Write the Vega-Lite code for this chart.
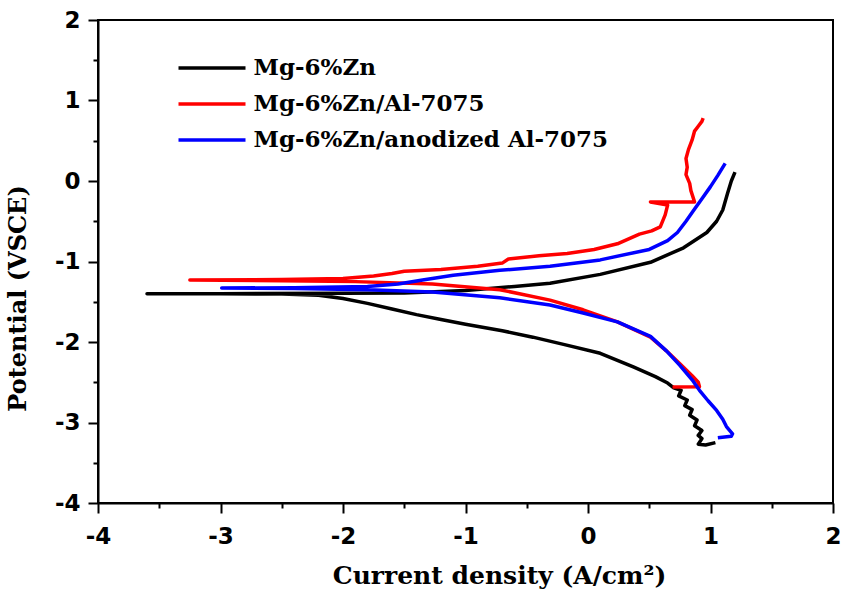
{
  "$schema": "https://vega.github.io/schema/vega-lite/v6.json",
  "width": 735,
  "height": 483,
  "autosize": {"type": "none"},
  "padding": {"left": 98, "top": 20, "right": 12, "bottom": 91},
  "background": "white",
  "config": {
    "view": {"stroke": "black", "strokeWidth": 2},
    "axis": {
      "domainColor": "black", "domainWidth": 2, "tickColor": "black", "tickWidth": 2,
      "grid": false, "labelFont": "DejaVu Sans", "labelFontWeight": "bold", "labelFontSize": 23,
      "labelColor": "black", "titleFont": "DejaVu Serif", "titleFontWeight": "bold",
      "titleFontSize": 25, "titleColor": "black"
    }
  },
  "data": {"values": [
    {"s":"Mg-6%Zn","i":1,"x":1.04,"y":-3.25},{"s":"Mg-6%Zn","i":2,"x":0.96,"y":-3.28},{"s":"Mg-6%Zn","i":3,"x":0.90,"y":-3.27},
    {"s":"Mg-6%Zn","i":4,"x":0.93,"y":-3.20},{"s":"Mg-6%Zn","i":5,"x":0.90,"y":-3.16},{"s":"Mg-6%Zn","i":6,"x":0.93,"y":-3.10},
    {"s":"Mg-6%Zn","i":7,"x":0.87,"y":-3.04},{"s":"Mg-6%Zn","i":8,"x":0.89,"y":-2.97},{"s":"Mg-6%Zn","i":9,"x":0.83,"y":-2.91},
    {"s":"Mg-6%Zn","i":10,"x":0.85,"y":-2.84},{"s":"Mg-6%Zn","i":11,"x":0.79,"y":-2.79},{"s":"Mg-6%Zn","i":12,"x":0.81,"y":-2.72},
    {"s":"Mg-6%Zn","i":13,"x":0.74,"y":-2.67},{"s":"Mg-6%Zn","i":14,"x":0.76,"y":-2.60},{"s":"Mg-6%Zn","i":15,"x":0.70,"y":-2.57},
    {"s":"Mg-6%Zn","i":16,"x":0.65,"y":-2.51},{"s":"Mg-6%Zn","i":17,"x":0.55,"y":-2.43},{"s":"Mg-6%Zn","i":18,"x":0.37,"y":-2.31},
    {"s":"Mg-6%Zn","i":19,"x":0.10,"y":-2.14},{"s":"Mg-6%Zn","i":20,"x":-0.20,"y":-2.03},{"s":"Mg-6%Zn","i":21,"x":-0.45,"y":-1.94},
    {"s":"Mg-6%Zn","i":22,"x":-0.70,"y":-1.86},{"s":"Mg-6%Zn","i":23,"x":-1.00,"y":-1.78},{"s":"Mg-6%Zn","i":24,"x":-1.20,"y":-1.72},
    {"s":"Mg-6%Zn","i":25,"x":-1.40,"y":-1.66},{"s":"Mg-6%Zn","i":26,"x":-1.60,"y":-1.59},{"s":"Mg-6%Zn","i":27,"x":-1.80,"y":-1.52},
    {"s":"Mg-6%Zn","i":28,"x":-2.00,"y":-1.46},{"s":"Mg-6%Zn","i":29,"x":-2.20,"y":-1.42},{"s":"Mg-6%Zn","i":30,"x":-2.50,"y":-1.405},
    {"s":"Mg-6%Zn","i":31,"x":-3.00,"y":-1.40},{"s":"Mg-6%Zn","i":32,"x":-3.60,"y":-1.40},{"s":"Mg-6%Zn","i":33,"x":-3.00,"y":-1.40},
    {"s":"Mg-6%Zn","i":34,"x":-2.00,"y":-1.395},{"s":"Mg-6%Zn","i":35,"x":-1.50,"y":-1.39},{"s":"Mg-6%Zn","i":36,"x":-1.00,"y":-1.36},
    {"s":"Mg-6%Zn","i":37,"x":-0.60,"y":-1.31},{"s":"Mg-6%Zn","i":38,"x":-0.31,"y":-1.27},{"s":"Mg-6%Zn","i":39,"x":0.10,"y":-1.16},
    {"s":"Mg-6%Zn","i":40,"x":0.51,"y":-1.01},{"s":"Mg-6%Zn","i":41,"x":0.78,"y":-0.83},{"s":"Mg-6%Zn","i":42,"x":0.97,"y":-0.64},
    {"s":"Mg-6%Zn","i":43,"x":1.05,"y":-0.50},{"s":"Mg-6%Zn","i":44,"x":1.10,"y":-0.36},{"s":"Mg-6%Zn","i":45,"x":1.14,"y":-0.15},
    {"s":"Mg-6%Zn","i":46,"x":1.17,"y":0.00},{"s":"Mg-6%Zn","i":47,"x":1.20,"y":0.11},

    {"s":"Mg-6%Zn/Al-7075","i":1,"x":0.69,"y":-2.56},{"s":"Mg-6%Zn/Al-7075","i":2,"x":0.91,"y":-2.555},{"s":"Mg-6%Zn/Al-7075","i":3,"x":0.90,"y":-2.50},
    {"s":"Mg-6%Zn/Al-7075","i":4,"x":0.85,"y":-2.42},{"s":"Mg-6%Zn/Al-7075","i":5,"x":0.75,"y":-2.27},{"s":"Mg-6%Zn/Al-7075","i":6,"x":0.64,"y":-2.11},
    {"s":"Mg-6%Zn/Al-7075","i":7,"x":0.51,"y":-1.94},{"s":"Mg-6%Zn/Al-7075","i":8,"x":0.24,"y":-1.75},{"s":"Mg-6%Zn/Al-7075","i":9,"x":-0.04,"y":-1.60},
    {"s":"Mg-6%Zn/Al-7075","i":10,"x":-0.31,"y":-1.48},{"s":"Mg-6%Zn/Al-7075","i":11,"x":-0.72,"y":-1.35},{"s":"Mg-6%Zn/Al-7075","i":12,"x":-1.27,"y":-1.28},
    {"s":"Mg-6%Zn/Al-7075","i":13,"x":-1.90,"y":-1.25},{"s":"Mg-6%Zn/Al-7075","i":14,"x":-2.50,"y":-1.24},{"s":"Mg-6%Zn/Al-7075","i":15,"x":-3.25,"y":-1.23},
    {"s":"Mg-6%Zn/Al-7075","i":16,"x":-2.50,"y":-1.225},{"s":"Mg-6%Zn/Al-7075","i":17,"x":-2.00,"y":-1.21},{"s":"Mg-6%Zn/Al-7075","i":18,"x":-1.75,"y":-1.18},
    {"s":"Mg-6%Zn/Al-7075","i":19,"x":-1.60,"y":-1.15},{"s":"Mg-6%Zn/Al-7075","i":20,"x":-1.50,"y":-1.12},{"s":"Mg-6%Zn/Al-7075","i":21,"x":-1.20,"y":-1.10},
    {"s":"Mg-6%Zn/Al-7075","i":22,"x":-0.90,"y":-1.06},{"s":"Mg-6%Zn/Al-7075","i":23,"x":-0.70,"y":-1.02},{"s":"Mg-6%Zn/Al-7075","i":24,"x":-0.65,"y":-0.97},
    {"s":"Mg-6%Zn/Al-7075","i":25,"x":-0.40,"y":-0.93},{"s":"Mg-6%Zn/Al-7075","i":26,"x":-0.17,"y":-0.90},{"s":"Mg-6%Zn/Al-7075","i":27,"x":0.05,"y":-0.85},
    {"s":"Mg-6%Zn/Al-7075","i":28,"x":0.24,"y":-0.78},{"s":"Mg-6%Zn/Al-7075","i":29,"x":0.42,"y":-0.66},{"s":"Mg-6%Zn/Al-7075","i":30,"x":0.52,"y":-0.62},
    {"s":"Mg-6%Zn/Al-7075","i":31,"x":0.59,"y":-0.57},{"s":"Mg-6%Zn/Al-7075","i":32,"x":0.63,"y":-0.42},{"s":"Mg-6%Zn/Al-7075","i":33,"x":0.65,"y":-0.30},
    {"s":"Mg-6%Zn/Al-7075","i":34,"x":0.51,"y":-0.26},{"s":"Mg-6%Zn/Al-7075","i":35,"x":0.87,"y":-0.26},{"s":"Mg-6%Zn/Al-7075","i":36,"x":0.84,"y":-0.12},
    {"s":"Mg-6%Zn/Al-7075","i":37,"x":0.83,"y":-0.03},{"s":"Mg-6%Zn/Al-7075","i":38,"x":0.80,"y":0.08},{"s":"Mg-6%Zn/Al-7075","i":39,"x":0.81,"y":0.17},
    {"s":"Mg-6%Zn/Al-7075","i":40,"x":0.80,"y":0.28},{"s":"Mg-6%Zn/Al-7075","i":41,"x":0.82,"y":0.39},{"s":"Mg-6%Zn/Al-7075","i":42,"x":0.85,"y":0.51},
    {"s":"Mg-6%Zn/Al-7075","i":43,"x":0.87,"y":0.62},{"s":"Mg-6%Zn/Al-7075","i":44,"x":0.90,"y":0.68},{"s":"Mg-6%Zn/Al-7075","i":45,"x":0.93,"y":0.74},
    {"s":"Mg-6%Zn/Al-7075","i":46,"x":0.94,"y":0.78},

    {"s":"Mg-6%Zn/anodized Al-7075","i":1,"x":1.06,"y":-3.19},{"s":"Mg-6%Zn/anodized Al-7075","i":2,"x":1.17,"y":-3.17},{"s":"Mg-6%Zn/anodized Al-7075","i":3,"x":1.18,"y":-3.14},
    {"s":"Mg-6%Zn/anodized Al-7075","i":4,"x":1.13,"y":-3.05},{"s":"Mg-6%Zn/anodized Al-7075","i":5,"x":1.10,"y":-2.96},{"s":"Mg-6%Zn/anodized Al-7075","i":6,"x":1.05,"y":-2.85},
    {"s":"Mg-6%Zn/anodized Al-7075","i":7,"x":0.98,"y":-2.73},{"s":"Mg-6%Zn/anodized Al-7075","i":8,"x":0.91,"y":-2.60},{"s":"Mg-6%Zn/anodized Al-7075","i":9,"x":0.85,"y":-2.47},
    {"s":"Mg-6%Zn/anodized Al-7075","i":10,"x":0.75,"y":-2.29},{"s":"Mg-6%Zn/anodized Al-7075","i":11,"x":0.64,"y":-2.11},{"s":"Mg-6%Zn/anodized Al-7075","i":12,"x":0.51,"y":-1.93},
    {"s":"Mg-6%Zn/anodized Al-7075","i":13,"x":0.24,"y":-1.75},{"s":"Mg-6%Zn/anodized Al-7075","i":14,"x":-0.04,"y":-1.64},{"s":"Mg-6%Zn/anodized Al-7075","i":15,"x":-0.31,"y":-1.54},
    {"s":"Mg-6%Zn/anodized Al-7075","i":16,"x":-0.72,"y":-1.45},{"s":"Mg-6%Zn/anodized Al-7075","i":17,"x":-1.27,"y":-1.38},{"s":"Mg-6%Zn/anodized Al-7075","i":18,"x":-1.80,"y":-1.35},
    {"s":"Mg-6%Zn/anodized Al-7075","i":19,"x":-2.40,"y":-1.335},{"s":"Mg-6%Zn/anodized Al-7075","i":20,"x":-2.99,"y":-1.33},{"s":"Mg-6%Zn/anodized Al-7075","i":21,"x":-2.40,"y":-1.325},
    {"s":"Mg-6%Zn/anodized Al-7075","i":22,"x":-1.80,"y":-1.31},{"s":"Mg-6%Zn/anodized Al-7075","i":23,"x":-1.55,"y":-1.28},{"s":"Mg-6%Zn/anodized Al-7075","i":24,"x":-1.35,"y":-1.23},
    {"s":"Mg-6%Zn/anodized Al-7075","i":25,"x":-1.10,"y":-1.17},{"s":"Mg-6%Zn/anodized Al-7075","i":26,"x":-0.72,"y":-1.11},{"s":"Mg-6%Zn/anodized Al-7075","i":27,"x":-0.31,"y":-1.06},
    {"s":"Mg-6%Zn/anodized Al-7075","i":28,"x":0.10,"y":-0.98},{"s":"Mg-6%Zn/anodized Al-7075","i":29,"x":0.50,"y":-0.85},{"s":"Mg-6%Zn/anodized Al-7075","i":30,"x":0.65,"y":-0.74},
    {"s":"Mg-6%Zn/anodized Al-7075","i":31,"x":0.73,"y":-0.64},{"s":"Mg-6%Zn/anodized Al-7075","i":32,"x":0.80,"y":-0.50},{"s":"Mg-6%Zn/anodized Al-7075","i":33,"x":0.86,"y":-0.37},
    {"s":"Mg-6%Zn/anodized Al-7075","i":34,"x":0.93,"y":-0.22},{"s":"Mg-6%Zn/anodized Al-7075","i":35,"x":1.00,"y":-0.07},{"s":"Mg-6%Zn/anodized Al-7075","i":36,"x":1.06,"y":0.07},
    {"s":"Mg-6%Zn/anodized Al-7075","i":37,"x":1.12,"y":0.22}
  ]},
  "mark": {"type": "line", "strokeWidth": 3.5, "strokeJoin": "round"},
  "encoding": {
    "x": {
      "field": "x", "type": "quantitative",
      "scale": {"domain": [-4, 2], "nice": false, "zero": false},
      "axis": {
        "values": [-4, -3.5, -3, -2.5, -2, -1.5, -1, -0.5, 0, 0.5, 1, 1.5, 2],
        "labelExpr": "datum.value % 1 === 0 ? (datum.value < 0 ? '-' + abs(datum.value) : '' + datum.value) : ''",
        "tickSize": {"condition": {"test": "datum.value % 1 !== 0", "value": 5}, "value": 10},
        "labelPadding": 12, "labelFlush": false, "labelOverlap": false,
        "title": "Current density (A/cm²)",
        "titleX": 401, "titleY": 80, "titleAlign": "center", "titleBaseline": "alphabetic"
      }
    },
    "y": {
      "field": "y", "type": "quantitative",
      "scale": {"domain": [-4, 2], "nice": false, "zero": false},
      "axis": {
        "values": [-4, -3.5, -3, -2.5, -2, -1.5, -1, -0.5, 0, 0.5, 1, 1.5, 2],
        "labelExpr": "datum.value % 1 === 0 ? (datum.value < 0 ? '-' + abs(datum.value) : '' + datum.value) : ''",
        "tickSize": {"condition": {"test": "datum.value % 1 !== 0", "value": 5}, "value": 10},
        "labelPadding": 8, "labelFlush": false, "labelOverlap": false,
        "title": "Potential (VSCE)", "titleFontSize": 24,
        "titleX": -73, "titleY": 278, "titleAngle": -90, "titleAlign": "center", "titleBaseline": "alphabetic"
      }
    },
    "color": {
      "field": "s", "type": "nominal",
      "scale": {"domain": ["Mg-6%Zn", "Mg-6%Zn/Al-7075", "Mg-6%Zn/anodized Al-7075"], "range": ["#000000", "#ff0000", "#0000ff"]},
      "legend": {
        "title": null, "orient": "none", "legendX": 102, "legendY": 36,
        "padding": 0, "symbolType": "M-3.35,0H3.35", "symbolSize": 400, "symbolStrokeWidth": 3.5,
        "labelFont": "DejaVu Serif", "labelFontWeight": "bold", "labelFontSize": 23, "labelColor": "black",
        "labelOffset": 29.5, "rowPadding": 12, "labelLimit": 500
      }
    },
    "order": {"field": "i", "type": "quantitative"}
  }
}
